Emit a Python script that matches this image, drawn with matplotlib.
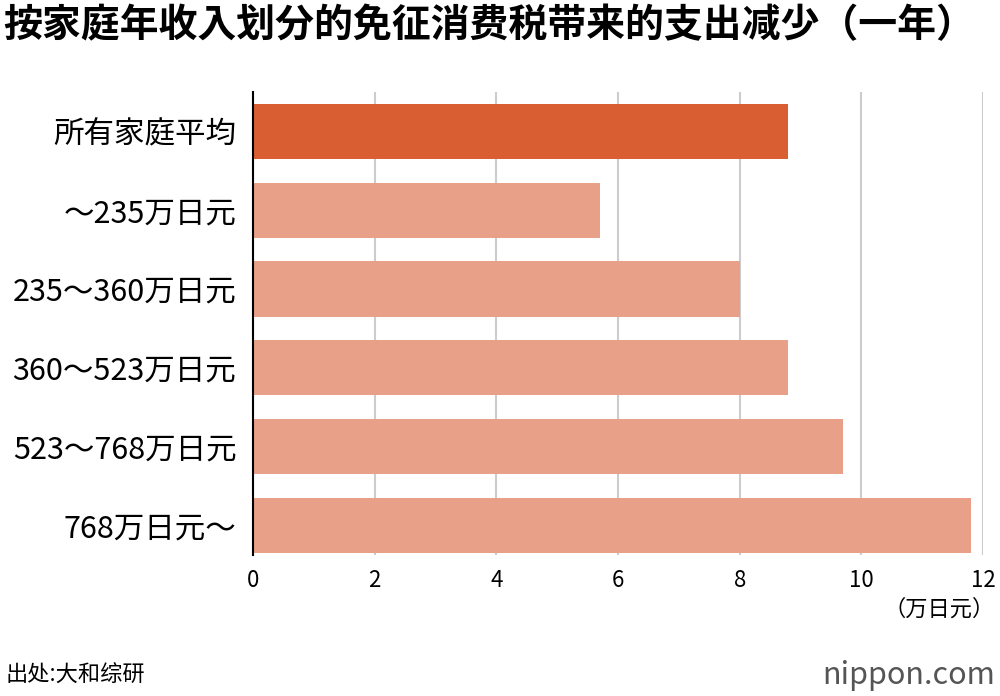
import matplotlib
matplotlib.use("Agg")
import matplotlib.pyplot as plt

plt.rcParams['font.family'] = ['Noto Sans CJK JP', 'DejaVu Sans']

labels = ["所有家庭平均", "～235万日元", "235～360万日元", "360～523万日元", "523～768万日元", "768万日元～"]
values = [8.8, 5.7, 8.0, 8.8, 9.7, 11.8]
colors = ["#D95F33"] + ["#E8A088"] * 5
xticks = [0, 2, 4, 6, 8, 10, 12]

fig = plt.figure(figsize=(10, 6.96), dpi=100)
ax = fig.add_axes([0.253, 0.203, 0.73, 0.665])
ax.barh(range(len(values)), values, height=0.7, color=colors, zorder=2)
ax.set_ylim(5.37, -0.5)
ax.set_xlim(0, 12)
ax.set_xticks(xticks)
ax.set_xticklabels([str(t) for t in xticks], fontsize=16)
ax.set_yticks(range(len(labels)))
ax.set_yticklabels(labels, fontsize=22)
ax.tick_params(axis='y', length=0, pad=12)
ax.tick_params(axis='x', length=0, pad=10)
ax.grid(axis='x', color='#cccccc', linewidth=1.5, zorder=0)
for s in ['top', 'right', 'bottom']:
    ax.spines[s].set_visible(False)
ax.spines['left'].set_linewidth(1.5)

fig.text(0.003, 0.963, "按家庭年收入划分的免征消费税带来的支出减少（一年）",
         fontsize=28, fontweight='bold', va='center')
fig.text(0.995, 0.125, "（万日元）", fontsize=16, ha='right', va='center')
fig.text(0.005, 0.03, "出处:大和综研", fontsize=16, va='center')
fig.text(0.995, 0.03, "nippon.com", fontsize=22, ha='right', va='center', color='#555555')

fig.savefig("out.png")
